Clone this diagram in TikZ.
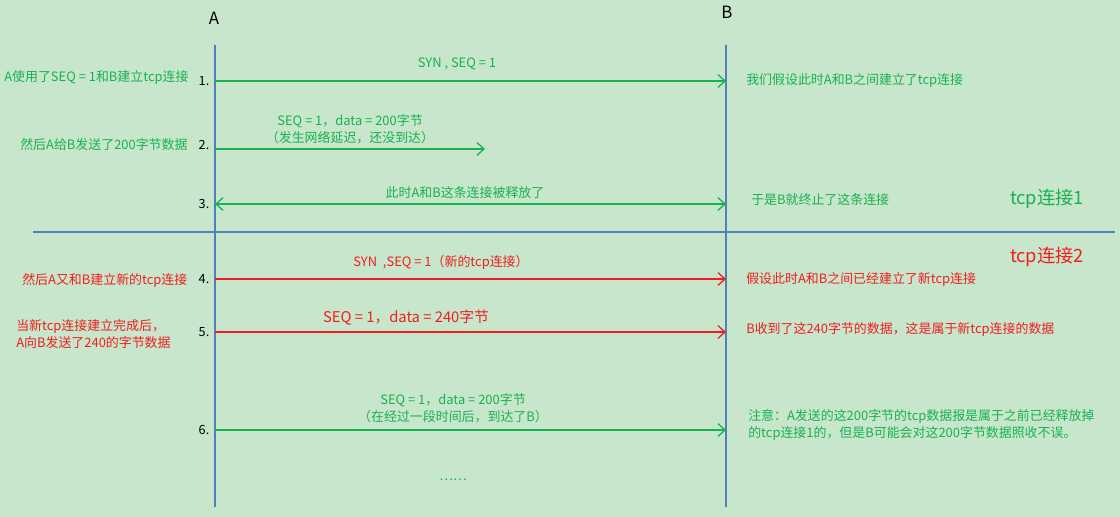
\documentclass[tikz,border=0pt]{standalone}
\usepackage{fontspec}
\setmainfont{Noto Sans CJK SC}
\usetikzlibrary{arrows.meta}
\definecolor{bg}{RGB}{200,230,203}
\definecolor{lifeblue}{RGB}{79,129,189}
\definecolor{msggreen}{RGB}{22,178,80}
\definecolor{msgred}{RGB}{240,30,30}
\tikzset{
  lifeline/.style={draw=lifeblue, line width=2pt},
  msg/.style={line width=0.9pt, -{Straight Barb[length=5pt,width=9pt]}},
  note/.style={font=\fontsize{9.2}{12}\selectfont, inner sep=0pt},
  num/.style={font=\fontsize{9}{11}\selectfont, text=black, inner sep=0pt}
}
\begin{document}
\begin{tikzpicture}[x=0.025cm, y=-0.025cm]
				\fill[bg] (0,0) rectangle (1120,517);
				\node[font=\large] (A) at (214,18) {A};
				\node[font=\large] (B) at (727,12) {B};
				\coordinate (Atop) at (215,45); \coordinate (Abot) at (215,507);
				\coordinate (Btop) at (726,45); \coordinate (Bbot) at (726,507);
				\coordinate (Lsep) at (33,232); \coordinate (Rsep) at (1115,232);
				\draw[lifeline] (Atop) -- (Abot);
				\draw[lifeline] (Btop) -- (Bbot);
				\draw[lifeline] (Lsep) -- (Rsep);
			
				% message end points
				\foreach \n/\y in {1/81, 3/204, 4/279, 5/332, 6/430}{
					\coordinate (a\n) at (215,\y);
					\coordinate (b\n) at (726,\y);
					\node[num] (n\n) at (204,\y) {\n.};
				}
				\coordinate (a2) at (215,149); \coordinate (b2) at (485,149);
				\node[num] (n2) at (204,145) {2.};
			
				\draw[msg, draw=msggreen] (a1) -- (b1);
				\draw[msg, draw=msggreen] (a2) -- (b2);
				\draw[msg, draw=msggreen, {Straight Barb[length=5pt,width=9pt]}-{Straight Barb[length=5pt,width=9pt]}] (a3) -- (b3);
				\draw[msg, draw=msgred] (a4) -- (b4);
				\draw[msg, draw=msgred] (a5) -- (b5);
				\draw[msg, draw=msggreen] (a6) -- (b6);
			
				% labels on the messages
				\begin{scope}[every node/.style={note, text=msggreen}]
					\node (m1) at (457,64) {SYN , SEQ = 1};
					\node[align=center] (m2) at (350,129) {SEQ = 1，data = 200字节\\（发生网络延迟，还没到达）};
					\node (m3) at (465,193) {此时A和B这条连接被释放了};
					\node[align=center] (m6) at (453,408) {SEQ = 1，data = 200字节\\（在经过一段时间后，到达了B）};
					\node (dots) at (453,480) {……};
					\node[anchor=west] (l1) at (4,78) {A使用了SEQ = 1和B建立tcp连接};
					\node[anchor=west] (l2) at (20,145) {然后A给B发送了200字节数据};
					\node[anchor=west] (r1) at (746,81) {我们假设此时A和B之间建立了tcp连接};
					\node[anchor=west] (r3) at (751,200) {于是B就终止了这条连接};
					\node[anchor=west, align=left] (r6) at (748,425) {注意：A发送的这200字节的tcp数据报是属于之前已经释放掉\\的tcp连接1的，但是B可能会对这200字节数据照收不误。};
					\node[font=\fontsize{13}{15}\selectfont] (c1) at (1047,199) {tcp连接1};
				\end{scope}
				\begin{scope}[every node/.style={note, text=msgred}]
					\node (m4) at (441,262) {SYN\ \ ,SEQ = 1（新的tcp连接）};
					\node[font=\fontsize{10.5}{12}\selectfont] (m5) at (406,318) {SEQ = 1，data = 240字节};
					\node[anchor=west] (l4) at (22,280) {然后A又和B建立新的tcp连接};
					\node[anchor=west, align=left] (l5) at (16,334) {当新tcp连接建立完成后，\\A向B发送了240的字节数据};
					\node[anchor=west] (r4) at (746,280) {假设此时A和B之间已经建立了新tcp连接};
					\node[anchor=west] (r5) at (746,330) {B收到了这240字节的数据，这是属于新tcp连接的数据};
					\node[font=\fontsize{13}{15}\selectfont] (c2) at (1047,257) {tcp连接2};
				\end{scope}
			\end{tikzpicture}
\end{document}
